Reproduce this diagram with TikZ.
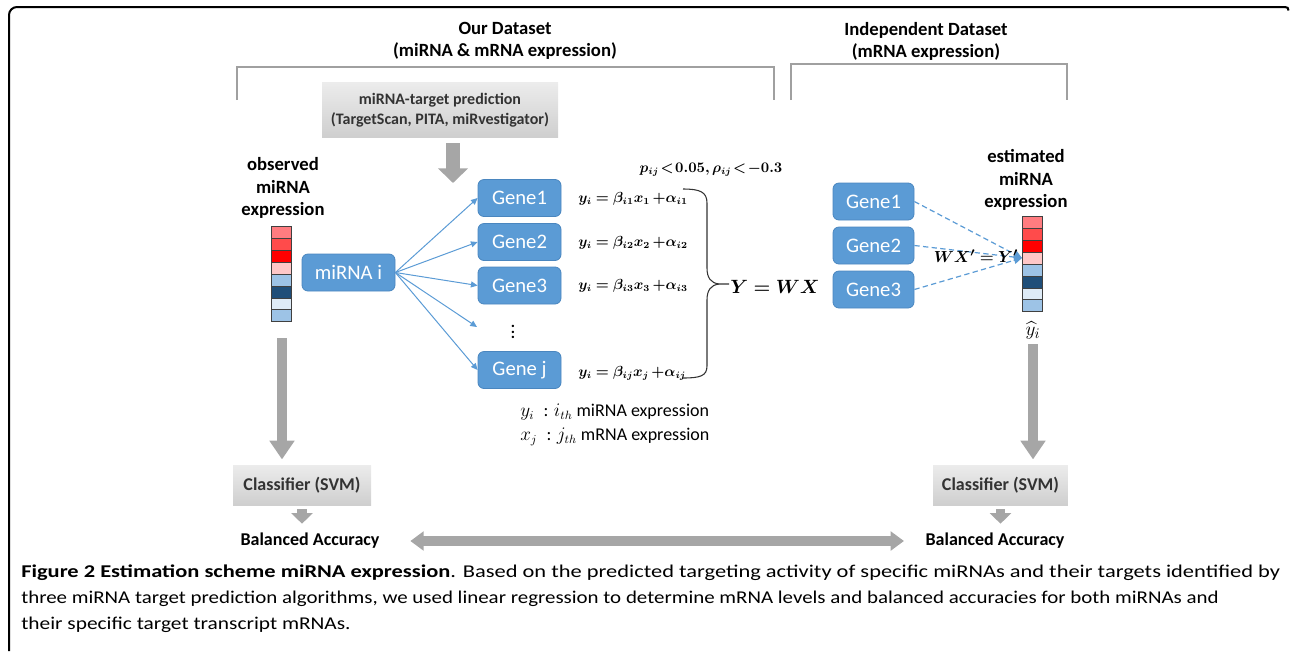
\documentclass[tikz,border=0pt]{standalone}
\usepackage{amsmath,bm}
\usepackage{fontspec}
\setmainfont{Carlito}
\usepackage{graphicx}
\usetikzlibrary{arrows.meta,calc}
\definecolor{boxblue}{HTML}{5B9BD5}
\definecolor{boxedge}{HTML}{4A86BF}
\definecolor{arrblue}{HTML}{5B9BD5}
\definecolor{garr}{HTML}{A6A6A6}
\definecolor{brk}{HTML}{A0A0A0}
\definecolor{txtgray}{HTML}{333333}
\definecolor{hmA}{HTML}{FF7C80}
\definecolor{hmB}{HTML}{FF4B4B}
\definecolor{hmC}{HTML}{FF0000}
\definecolor{hmD}{HTML}{FFC7C7}
\definecolor{hmE}{HTML}{9DC3E6}
\definecolor{hmF}{HTML}{1F4E79}
\definecolor{hmG}{HTML}{DEEBF7}
\definecolor{hmH}{HTML}{9DC3E6}
\newcommand\hmcells[1]{%
  \foreach \c [count=\i from 0] in {hmA,hmB,hmC,hmD,hmE,hmF,hmG,hmH}{%
    \filldraw[fill=\c, draw=black!75, line width=0.6pt] ($(#1.north west)+(0,\i*11.875)$) rectangle ++(20,11.875);}}
\tikzset{
  gene/.style={draw=boxedge, line width=0.6pt, fill=boxblue, rounded corners=4.5pt, text=white,
    font=\fontsize{15.5}{17}\selectfont, minimum height=27.75pt, inner sep=0pt},
  graybox/.style={draw=none, top color=gray!15, bottom color=gray!38, text=txtgray,
    font=\bfseries\fontsize{12}{15}\selectfont, align=center, inner sep=0pt},
  head/.style={font=\bfseries\fontsize{14}{16.5}\selectfont, align=center},
  bracket/.style={draw=brk, line width=1.1pt},
  barrow/.style={draw=arrblue, line width=0.75pt, -{Triangle[length=5pt,width=4.5pt]}},
  darrow/.style={draw=arrblue, line width=0.9pt, dash pattern=on 4pt off 2.5pt, -{Triangle[length=6pt,width=5.5pt]}},
  garrow/.style={draw=garr, line width=8pt, -{Triangle[length=14pt,width=18pt]}},
  sarrow/.style={draw=garr, line width=7pt, -{Triangle[length=8pt,width=16pt]}},
  dblarrow/.style={draw=garr, line width=7pt, {Triangle[length=10pt,width=14pt]}-{Triangle[length=10pt,width=14pt]}},
  hm/.style={minimum width=15pt, minimum height=71.25pt, inner sep=0pt, draw=none},
  eq/.style={anchor=west, font=\fontsize{10.5}{12}\selectfont, inner sep=0pt},
  capline/.style={anchor=base west, inner sep=0pt, font=\fontsize{13.5}{16}\selectfont},
  lbl/.style={font=\bfseries\fontsize{13.5}{15}\selectfont, inner sep=0pt}
}
\begin{document}
\begin{tikzpicture}[x=0.75pt, y=-0.75pt]
\useasboundingbox (0,0) rectangle (1290,651);
% frame
\draw[line width=1.5pt, rounded corners=6pt] (9,651) -- (9,7) -- (1285,7);
\draw[line width=1.5pt] (1285,7) .. controls (1287.5,7) and (1288.5,8) .. (1288.5,10.5);
% headings
\node[head] (ourds) at (505,41) {Our Dataset\\(miRNA \& mRNA expression)};
\node[head] (indds) at (926,41) {Independent Dataset\\(mRNA expression)};
\draw[bracket] (237,100) -- (237,67) -- (774,67) -- (774,100);
\draw[bracket] (791,100) -- (791,64) -- (1067,64) -- (1067,100);
% prediction box
\node[graybox, minimum width=177pt, minimum height=41.25pt] (pred) at (440,110)
  {miRNA-target prediction\\(TargetScan, PITA, miRvestigator)};
\coordinate (predtip) at (453,183);
\draw[garrow, line width=10pt, -{Triangle[length=11pt,width=22pt]}] ([yshift=-4pt]pred.south -| predtip) -- (predtip);
% left side
\node[head, font=\bfseries\fontsize{14}{17}\selectfont] (obs) at (283,188) {observed\\miRNA\\expression};
\node[hm] (lhm) at (282,274.5) {};
\hmcells{lhm}
\node[gene, minimum width=69.75pt] (mirna) at (348.5,272.5) {miRNA i};
\node[gene, minimum width=62.25pt] (g1) at (519.5,198) {Gene1};
\node[gene, minimum width=62.25pt] (g2) at (519.5,242) {Gene2};
\node[gene, minimum width=62.25pt] (g3) at (519.5,285.5) {Gene3};
\node[gene, minimum width=62.25pt] (gj) at (519.5,370) {Gene j};
\node[font=\bfseries\fontsize{12}{12}\selectfont, inner sep=0pt] (dots) at (513,328) {$\vdots$};
\coordinate (dtip) at (477,327);
\draw[barrow] (mirna.east) -- (g1.west);
\draw[barrow] (mirna.east) -- (g2.west);
\draw[barrow] (mirna.east) -- (g3.west);
\draw[barrow] (mirna.east) -- (dtip);
\draw[barrow] (mirna.east) -- (gj.west);
% equations
\node[eq] (e1) at (578,199) {$\bm{y_i = \beta_{i1}x_1 \,{+}\alpha_{i1}}$};
\node[eq] (e2) at (578,243) {$\bm{y_i = \beta_{i2}x_2 \,{+}\alpha_{i2}}$};
\node[eq] (e3) at (578,286) {$\bm{y_i = \beta_{i3}x_3 \,{+}\alpha_{i3}}$};
\node[eq] (ej) at (578,373) {$\bm{y_i = \beta_{ij}x_j \,{+}\alpha_{ij}}$};
\node[font=\fontsize{10.5}{12}\selectfont, inner sep=0pt] (cond) at (711,170)
  {$\bm{p_{ij}\!<\!0.05, \rho_{ij}\!<\!-0.3}$};
% brace
\draw[draw=black!80, line width=0.8pt] (683,189) .. controls (700,189) and (707,192) .. (707,203) -- (707,268)
  .. controls (707,278) and (711,283) .. (719,284) -- (729,284);
\draw[draw=black!80, line width=0.8pt] (719,284) .. controls (711,285) and (707,290) .. (707,300) -- (707,366)
  .. controls (707,376) and (700,378) .. (683,378);
\node[font=\fontsize{14}{16}\selectfont, inner sep=0pt] (ywx) at (775,287) {$\bm{Y = WX}$};
% legend
\node[anchor=west, inner sep=0pt, font=\fontsize{13.5}{15}\selectfont] (ly) at (520,412) {$y_i$\hspace{7pt}: $i_{th}$ miRNA expression};
\node[anchor=west, inner sep=0pt, font=\fontsize{13.5}{15}\selectfont] (lx) at (520,437) {$x_j$\hspace{7pt}: $j_{th}$ mRNA expression};
% right side
\node[head, font=\bfseries\fontsize{14}{17}\selectfont] (est) at (1026,180) {estimated\\miRNA\\expression};
\node[hm] (rhm) at (1033,264.5) {};
\hmcells{rhm}
\node[gene, minimum width=60.75pt] (r1) at (873.5,201.5) {Gene1};
\node[gene, minimum width=60.75pt] (r2) at (873.5,245.5) {Gene2};
\node[gene, minimum width=60.75pt] (r3) at (873.5,289.5) {Gene3};
\coordinate (hit) at (1022,258);
\draw[darrow] (r1.east) -- (hit);
\draw[darrow] (r2.east) -- (hit);
\draw[darrow] (r3.east) -- (hit);
\node[font=\fontsize{12.5}{14}\selectfont, inner sep=0pt] (wxy) at (976,256) {$\bm{WX' = Y'}$};
\node[font=\fontsize{15}{16}\selectfont, inner sep=0pt] (yhat) at (1033,330) {$\widehat{y}_i$};
% classifiers
\node[graybox, font=\bfseries\fontsize{13.5}{15}\selectfont, minimum width=103.5pt, minimum height=30pt] (lcls) at (302,485) {Classifier (SVM)};
\node[graybox, font=\bfseries\fontsize{13.5}{15}\selectfont, minimum width=101pt, minimum height=30pt] (rcls) at (1000.5,485) {Classifier (SVM)};
\draw[garrow] ([yshift=-12pt]lhm.south) -- ([yshift=4pt]lhm.south |- lcls.north);
\draw[garrow] ([yshift=-4pt]yhat.south) -- ([yshift=4pt]yhat.south |- rcls.north);
\node[lbl] (lba) at (310,541) {Balanced Accuracy};
\node[lbl] (rba) at (995,541) {Balanced Accuracy};
\draw[sarrow] ([yshift=-3pt]lcls.south) -- ([yshift=7pt]lcls.south |- lba.north);
\draw[sarrow] ([yshift=-3pt]rcls.south) -- ([yshift=7pt]rcls.south |- rba.north);
\draw[dblarrow] ([xshift=23pt]lba.east) -- ([xshift=-16pt]rba.west);
% caption
\node[capline] (cap1) at (21,577) {\resizebox{944pt}{\height}{\textbf{Figure 2 Estimation scheme miRNA expression}. Based on the predicted targeting activity of specific miRNAs and their targets identified by}};
\node[capline] (cap2) at (21,603) {\resizebox{898pt}{\height}{three miRNA target prediction algorithms, we used linear regression to determine mRNA levels and balanced accuracies for both miRNAs and}};
\node[capline] (cap3) at (21,629) {\resizebox{247pt}{\height}{their specific target transcript mRNAs.}};
\end{tikzpicture}
\end{document}
